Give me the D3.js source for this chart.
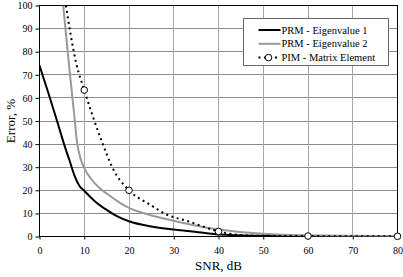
<!DOCTYPE html>
<html>
<head>
<meta charset="utf-8">
<script src="https://cdn.jsdelivr.net/npm/d3@7"></script>
<style>
  body { margin: 0; background: #fff; }
  svg { display: block; font-family: "Liberation Serif", "Times New Roman", serif; }
</style>
</head>
<body>
<script>
// Values
let xTicks = [0, 10, 20, 30, 40, 50, 60, 70, 80];
let yTicks = [0, 10, 20, 30, 40, 50, 60, 70, 80, 90, 100];

let eig1Snr = [0, 2, 4, 5.9, 6.7, 7.8, 8.9, 10, 12.3, 15, 17.5, 20, 24.7, 30, 33.7, 40, 50, 60, 70, 80];
let eig1Err = [74, 62, 49.5, 37.5, 33, 26.5, 22, 19.8, 15.4, 11.5, 8.6, 6.6, 4.4, 3, 2.3, 0.9, 0.3, 0.1, 0.05, 0.02];

let eig2Snr = [5.3, 6.5, 7.9, 8.3, 9.3, 10, 11.5, 13.4, 15, 18, 20, 24.7, 30, 33.7, 40, 50, 60, 70, 80];
let eig2Err = [100, 76, 50, 42, 33, 29.6, 25, 21, 18.6, 14.6, 12.4, 9.3, 6.8, 5.2, 3, 1.2, 0.5, 0.3, 0.2];

let pimSnr = [5.9, 8.2, 10, 13.8, 16.5, 20, 24.7, 28.4, 33.2, 40, 45, 50, 60, 70, 80];
let pimErr = [100, 75, 63.4, 41.8, 29, 20, 13.8, 9.5, 6.6, 2.2, 0.6, 0.3, 0.2, 0.1, 0.1];
let pimMarkerSnr = [10, 20, 40, 60, 80];

let series = [
    { name: "PRM - Eigenvalue 1", snr: eig1Snr, err: eig1Err, color: "#000", width: 2, dash: null },
    { name: "PRM - Eigenvalue 2", snr: eig2Snr, err: eig2Err, color: "#999", width: 2, dash: null },
    { name: "PIM - Matrix Element", snr: pimSnr, err: pimErr, color: "#000", width: 2, dash: "2,3.5" }
];

let W = 403, H = 277;
let margin = { top: 5.5, right: 5.5, bottom: 40.5, left: 39.5 };
let width = W - margin.left - margin.right;
let height = H - margin.top - margin.bottom;

let x = d3.scaleLinear().domain([0, 80]).range([0, width]);
let y = d3.scaleLinear().domain([0, 100]).range([height, 0]);

let svg = d3.select("body")
    .append("svg")
    .attr("width", W)
    .attr("height", H);

let g = svg.append("g")
    .attr("transform", `translate(${margin.left}, ${margin.top})`);

g.append("clipPath")
    .attr("id", "plot-clip")
    .append("rect")
    .attr("width", width)
    .attr("height", height);

// Grid
g.append("g")
    .selectAll("line")
    .data(yTicks.slice(1))
    .enter()
    .append("line")
    .attr("x1", 0).attr("x2", width)
    .attr("y1", d => Math.round(y(d))).attr("y2", d => Math.round(y(d)))
    .attr("stroke", "#8c8c8c");

g.append("g")
    .selectAll("line")
    .data(xTicks.slice(1))
    .enter()
    .append("line")
    .attr("x1", d => Math.round(x(d))).attr("x2", d => Math.round(x(d)))
    .attr("y1", 0).attr("y2", height)
    .attr("stroke", "#a6a6a6");

// Axes
let xAxis = g.append("g")
    .attr("transform", `translate(0, ${height})`)
    .call(d3.axisBottom(x).tickValues(xTicks).tickSize(3).tickPadding(7));

let yAxis = g.append("g")
    .call(d3.axisLeft(y).tickValues(yTicks).tickSize(4).tickPadding(3));

[xAxis, yAxis].forEach(a => {
    a.select(".domain").remove();
    a.selectAll("text")
        .style("font-family", "Liberation Serif, serif")
        .style("font-size", "10px")
        .attr("fill", "#000");
    a.selectAll("line").attr("stroke", "#000");
});

// Plot frame
g.append("rect")
    .attr("width", width)
    .attr("height", height)
    .attr("fill", "none")
    .attr("stroke", "#000");

// Curves
let line = d3.line()
    .x(d => x(d[0]))
    .y(d => y(d[1]))
    .curve(d3.curveMonotoneX);

let plot = g.append("g").attr("clip-path", "url(#plot-clip)");

series.forEach(s => {
    let pts = s.snr.map((v, i) => [v, s.err[i]]);
    plot.append("path")
        .attr("d", line(pts))
        .attr("fill", "none")
        .attr("stroke", s.color)
        .attr("stroke-width", s.width)
        .attr("stroke-dasharray", s.dash);
});

let markers = pimSnr.map((v, i) => [v, pimErr[i]]).filter(d => pimMarkerSnr.includes(d[0]));

g.append("g")
    .selectAll("circle")
    .data(markers)
    .enter()
    .append("circle")
    .attr("cx", d => x(d[0]))
    .attr("cy", d => y(d[1]))
    .attr("r", 3.3)
    .attr("fill", "#fff")
    .attr("stroke", "#000")
    .attr("stroke-width", 1);

// Axis titles
svg.append("text")
    .attr("x", margin.left + width / 2)
    .attr("y", 270)
    .attr("text-anchor", "middle")
    .style("font-size", "13px")
    .text("SNR, dB");

svg.append("text")
    .attr("transform", `translate(15, ${margin.top + height / 2}) rotate(-90)`)
    .attr("text-anchor", "middle")
    .style("font-size", "13px")
    .text("Error, %");

// Legend
let legend = svg.append("g").attr("transform", "translate(243.5, 18.5)");

legend.append("rect")
    .attr("width", 145)
    .attr("height", 47)
    .attr("fill", "#fff")
    .attr("stroke", "#666");

let rows = legend.selectAll(".legend")
    .data(series)
    .enter()
    .append("g")
    .attr("class", "legend")
    .attr("transform", (_, i) => `translate(0, ${11.5 + i * 13.8})`);

rows.append("line")
    .attr("x1", 15).attr("x2", 37)
    .attr("stroke", d => d.color)
    .attr("stroke-width", d => d.width)
    .attr("stroke-dasharray", d => d.dash);

rows.filter((_, i) => i === 2)
    .append("circle")
    .attr("cx", 25)
    .attr("r", 3.3)
    .attr("fill", "#fff")
    .attr("stroke", "#000");

rows.append("text")
    .attr("x", 38)
    .attr("y", 3.6)
    .style("font-size", "10.5px")
    .text(d => d.name);
</script>
</body>
</html>
